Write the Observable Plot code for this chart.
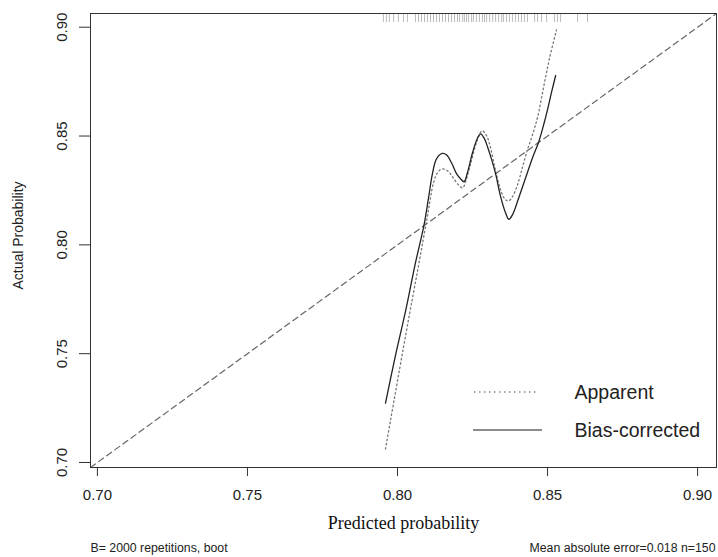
<!DOCTYPE html>
<html>
<head>
<meta charset="utf-8">
<script src="https://cdn.jsdelivr.net/npm/d3@7"></script>
<script src="https://cdn.jsdelivr.net/npm/@observablehq/plot@0.6"></script>
<style>
  html, body { margin: 0; padding: 0; background: #fff; }
  #chart svg { display: block; }
</style>
</head>
<body>
<div id="chart"></div>
<script>
// ---- data ----
const xTicks = [0.70, 0.75, 0.80, 0.85, 0.90];
const yTicks = [0.70, 0.75, 0.80, 0.85, 0.90];

// Apparent calibration curve (dotted)
const apparentX = [0.7960, 0.8028, 0.8070, 0.8100, 0.8120, 0.8133, 0.8149, 0.8167, 0.8183, 0.8203, 0.8217, 0.8230, 0.8243, 0.8263, 0.8282, 0.8297, 0.8310, 0.8327, 0.8347, 0.8360, 0.8371, 0.8383, 0.8400, 0.8417, 0.8433, 0.8450, 0.8467, 0.8487, 0.8507, 0.8530];
const apparentY = [0.7062, 0.7591, 0.7904, 0.8134, 0.8285, 0.8331, 0.8349, 0.8340, 0.8313, 0.8276, 0.8262, 0.8304, 0.8368, 0.8469, 0.8524, 0.8501, 0.8446, 0.8340, 0.8239, 0.8207, 0.8202, 0.8221, 0.8276, 0.8359, 0.8437, 0.8506, 0.8588, 0.8726, 0.8860, 0.8988];

// Bias-corrected calibration curve (solid)
const biasX = [0.7960, 0.7993, 0.8027, 0.8060, 0.8088, 0.8103, 0.8117, 0.8130, 0.8149, 0.8163, 0.8180, 0.8197, 0.8210, 0.8222, 0.8233, 0.8250, 0.8267, 0.8277, 0.8290, 0.8301, 0.8313, 0.8327, 0.8343, 0.8360, 0.8371, 0.8383, 0.8403, 0.8427, 0.8450, 0.8471, 0.8487, 0.8499, 0.8513, 0.8527];
const biasY = [0.7273, 0.7490, 0.7697, 0.7918, 0.8088, 0.8212, 0.8331, 0.8395, 0.8420, 0.8414, 0.8377, 0.8326, 0.8304, 0.8290, 0.8331, 0.8423, 0.8492, 0.8510, 0.8487, 0.8446, 0.8395, 0.8326, 0.8225, 0.8147, 0.8117, 0.8138, 0.8212, 0.8308, 0.8400, 0.8475, 0.8552, 0.8616, 0.8699, 0.8778];

// Rug of predicted probabilities (top)
const rugX = [0.7953, 0.7963, 0.7973, 0.7987, 0.8003, 0.8020, 0.8033, 0.8060, 0.8070, 0.8080, 0.8090, 0.8100, 0.8110, 0.8120, 0.8130, 0.8140, 0.8150, 0.8160, 0.8170, 0.8180, 0.8190, 0.8200, 0.8207, 0.8217, 0.8223, 0.8230, 0.8237, 0.8247, 0.8253, 0.8263, 0.8273, 0.8283, 0.8290, 0.8297, 0.8307, 0.8317, 0.8327, 0.8337, 0.8347, 0.8353, 0.8363, 0.8373, 0.8383, 0.8393, 0.8403, 0.8413, 0.8423, 0.8433, 0.8457, 0.8467, 0.8480, 0.8497, 0.8523, 0.8533, 0.8543, 0.8600, 0.8633];

const diagonal = [0.6977, 0.9063];
const axisDomain = [0.6977, 0.9063];

const legendLabels = ["Apparent", "Bias-corrected"];
const xLabel = "Predicted probability";
const yLabel = "Actual Probability";
const noteLeft = "B= 2000 repetitions, boot";
const noteRight = "Mean absolute error=0.018 n=150";

// ---- build ----
const apparent = apparentX.map((x, i) => ({x, y: apparentY[i]}));
const bias = biasX.map((x, i) => ({x, y: biasY[i]}));
const diag = diagonal.map(v => ({x: v, y: v}));
const fmt = d3.format(".2f");
const sans = "'Liberation Sans', Arial, Helvetica, sans-serif";
const serif = "'Liberation Serif', 'Times New Roman', serif";

const W = 718, H = 557;
const mL = 90, mR = 2, mT = 13, mB = 90;

function legendMark(index, scales, values, dimensions) {
  const {width, height, marginRight, marginBottom} = dimensions;
  const right = width - marginRight, bottom = height - marginBottom;
  const g = d3.create("svg:g").attr("fill", "none");
  g.append("line")
    .attr("x1", right - 242).attr("x2", right - 179)
    .attr("y1", bottom - 75).attr("y2", bottom - 75)
    .attr("stroke", "#888").attr("stroke-width", 1.3)
    .attr("stroke-dasharray", "1.5,3.5");
  g.append("line")
    .attr("x1", right - 243).attr("x2", right - 174)
    .attr("y1", bottom - 37).attr("y2", bottom - 37)
    .attr("stroke", "#666").attr("stroke-width", 1.5);
  return g.node();
}

const chart = Plot.plot({
  width: W,
  height: H,
  marginLeft: mL,
  marginRight: mR,
  marginTop: mT,
  marginBottom: mB,
  style: {fontFamily: sans, background: "#fff", color: "#222"},
  x: {domain: axisDomain, axis: null},
  y: {domain: axisDomain, axis: null},
  marks: [
    // rug
    Plot.ruleX(rugX, {x: d => d, stroke: "#bbb", strokeWidth: 1, insetBottom: H - mT - mB - 9}),
    // diagonal
    Plot.line(diag, {x: "x", y: "y", stroke: "#666", strokeWidth: 1.2, strokeDasharray: "6,4", clip: true}),
    // apparent
    Plot.line(apparent, {x: "x", y: "y", curve: "catmull-rom", stroke: "#777", strokeWidth: 1.3, strokeDasharray: "1.5,2.8"}),
    // bias-corrected
    Plot.line(bias, {x: "x", y: "y", curve: "catmull-rom", stroke: "#222", strokeWidth: 1.3}),
    // frame
    Plot.frame({stroke: "#333", strokeWidth: 1}),
    // x axis
    Plot.axisX({ticks: xTicks, tickSize: 9, tickPadding: 13, tickFormat: fmt, fontSize: 15, stroke: "#333", fill: "#222", label: null}),
    // y axis ticks
    Plot.axisY({ticks: yTicks, tickSize: 11, tickFormat: () => "", stroke: "#333", label: null}),
    // y tick labels (rotated)
    Plot.text(yTicks, {y: d => d, text: d => fmt(d), frameAnchor: "left", dx: -28, rotate: -90, fontSize: 15, fill: "#222", textAnchor: "middle", lineAnchor: "middle"}),
    // axis titles
    Plot.text([xLabel], {text: d => d, frameAnchor: "bottom", dy: 56, fontSize: 18, fontFamily: serif, fill: "#111", textAnchor: "middle", lineAnchor: "middle"}),
    Plot.text([yLabel], {text: d => d, frameAnchor: "left", dx: -72, dy: -5, rotate: -90, fontSize: 14, fill: "#222", textAnchor: "middle", lineAnchor: "middle"}),
    // footnotes
    Plot.text([noteLeft], {text: d => d, frameAnchor: "bottom-left", dy: 81, fontSize: 12.3, fill: "#222", textAnchor: "start", lineAnchor: "middle"}),
    Plot.text([noteRight], {text: d => d, frameAnchor: "bottom-right", dy: 81, dx: -1, fontSize: 12.3, fill: "#222", textAnchor: "end", lineAnchor: "middle"}),
    // legend
    legendMark,
    Plot.text([legendLabels[0]], {text: d => d, frameAnchor: "bottom-right", dx: -142, dy: -75, fontSize: 19.5, fill: "#222", textAnchor: "start", lineAnchor: "middle"}),
    Plot.text([legendLabels[1]], {text: d => d, frameAnchor: "bottom-right", dx: -142, dy: -37, fontSize: 19.5, fill: "#222", textAnchor: "start", lineAnchor: "middle"})
  ]
});

document.getElementById("chart").appendChild(chart);
</script>
</body>
</html>
